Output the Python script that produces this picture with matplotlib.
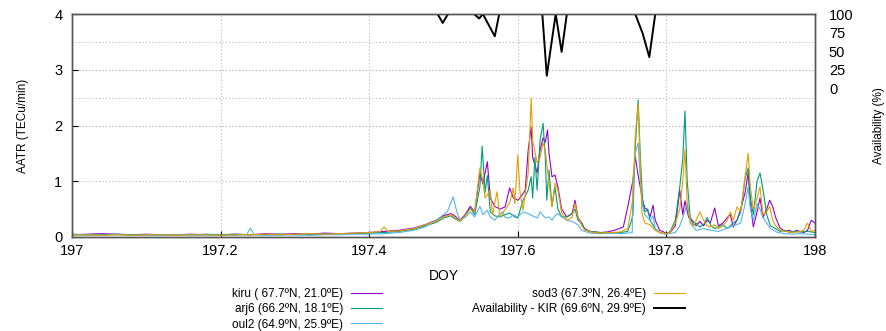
import matplotlib
matplotlib.use("Agg")
import matplotlib.pyplot as plt

plt.rcParams['font.family'] = ['Liberation Sans', 'DejaVu Sans']

# ---- data ----
kiru_doy = [197.00, 197.02, 197.04, 197.06, 197.08, 197.10, 197.12, 197.14, 197.16, 197.18,
            197.20, 197.22, 197.24, 197.26, 197.28, 197.30, 197.32, 197.34, 197.36, 197.38,
            197.40, 197.42, 197.44, 197.46, 197.475, 197.49, 197.50, 197.51, 197.515, 197.522,
            197.529, 197.536, 197.542, 197.549, 197.553, 197.559, 197.563, 197.569, 197.576, 197.583,
            197.589, 197.594, 197.600, 197.603, 197.610, 197.614, 197.618, 197.620, 197.626, 197.630,
            197.634, 197.637, 197.640, 197.642, 197.646, 197.650, 197.654, 197.659, 197.666, 197.673,
            197.677, 197.681, 197.686, 197.690, 197.697, 197.705, 197.711, 197.720, 197.730, 197.742,
            197.748, 197.755, 197.758, 197.762, 197.768, 197.771, 197.774, 197.778, 197.782, 197.785,
            197.791, 197.795, 197.800, 197.805, 197.812, 197.816, 197.818, 197.822, 197.825, 197.830,
            197.835, 197.840, 197.845, 197.850, 197.855, 197.859, 197.865, 197.870, 197.876, 197.882,
            197.886, 197.890, 197.895, 197.900, 197.906, 197.910, 197.913, 197.917, 197.922, 197.926,
            197.930, 197.935, 197.939, 197.943, 197.947, 197.953, 197.960, 197.966, 197.970, 197.975,
            197.980, 197.985, 197.990, 197.995, 198.000]
kiru_aatr = [0.04, 0.05, 0.06, 0.05, 0.04, 0.05, 0.04, 0.04, 0.05, 0.04,
             0.04, 0.05, 0.04, 0.06, 0.05, 0.06, 0.05, 0.07, 0.06, 0.07,
             0.08, 0.10, 0.12, 0.16, 0.22, 0.30, 0.38, 0.42, 0.38, 0.30,
             0.40, 0.55, 0.45, 1.15, 0.95, 1.35, 0.70, 0.55, 0.50, 0.54,
             0.88, 0.70, 0.66, 0.70, 0.84, 1.56, 1.97, 1.43, 1.15, 1.56,
             1.78, 1.70, 1.92, 1.50, 1.08, 1.11, 0.90, 0.50, 0.36, 0.42,
             0.66, 0.35, 0.25, 0.15, 0.10, 0.09, 0.08, 0.09, 0.12, 0.18,
             0.54, 1.02, 1.45, 1.10, 0.66, 0.52, 0.50, 0.36, 0.57, 0.30,
             0.12, 0.10, 0.06, 0.08, 0.20, 0.62, 0.84, 0.40, 0.65, 0.35,
             0.30, 0.20, 0.28, 0.20, 0.30, 0.25, 0.52, 0.20, 0.25, 0.35,
             0.40, 0.18, 0.30, 0.50, 0.80, 1.15, 0.60, 0.18, 0.45, 0.70,
             0.35, 0.50, 0.66, 0.55, 0.35, 0.16, 0.10, 0.12, 0.08, 0.12,
             0.10, 0.08, 0.12, 0.30, 0.25]

arj6_doy = [197.00, 197.02, 197.04, 197.06, 197.08, 197.10, 197.12, 197.14, 197.16, 197.18,
            197.20, 197.22, 197.24, 197.26, 197.28, 197.30, 197.32, 197.34, 197.36, 197.38,
            197.40, 197.42, 197.44, 197.46, 197.475, 197.49, 197.50, 197.51, 197.515, 197.522,
            197.529, 197.536, 197.542, 197.549, 197.552, 197.556, 197.559, 197.563, 197.569, 197.576,
            197.583, 197.589, 197.596, 197.600, 197.607, 197.614, 197.618, 197.620, 197.623, 197.626,
            197.630, 197.634, 197.637, 197.639, 197.642, 197.646, 197.650, 197.654, 197.659, 197.666,
            197.673, 197.677, 197.681, 197.686, 197.690, 197.697, 197.711, 197.724, 197.738, 197.748,
            197.752, 197.755, 197.758, 197.762, 197.765, 197.768, 197.771, 197.775, 197.778, 197.785,
            197.791, 197.800, 197.805, 197.812, 197.818, 197.822, 197.825, 197.828, 197.832, 197.836,
            197.840, 197.845, 197.850, 197.855, 197.860, 197.865, 197.870, 197.876, 197.882, 197.886,
            197.890, 197.895, 197.900, 197.906, 197.910, 197.913, 197.917, 197.922, 197.926, 197.930,
            197.935, 197.940, 197.947, 197.953, 197.960, 197.966, 197.972, 197.980, 197.990, 198.000]
arj6_aatr = [0.05, 0.04, 0.04, 0.05, 0.04, 0.04, 0.03, 0.04, 0.04, 0.05,
             0.04, 0.05, 0.04, 0.04, 0.05, 0.04, 0.05, 0.05, 0.06, 0.06,
             0.07, 0.08, 0.10, 0.14, 0.20, 0.26, 0.34, 0.38, 0.33, 0.28,
             0.38, 0.52, 0.40, 0.90, 1.63, 0.80, 1.10, 0.45, 0.38, 0.36,
             0.40, 0.43, 0.36, 0.34, 0.66, 0.84, 1.08, 0.70, 1.43, 0.84,
             1.74, 2.04, 1.43, 0.66, 1.20, 0.55, 0.90, 0.50, 0.36, 0.36,
             0.42, 0.50, 0.30, 0.25, 0.13, 0.10, 0.08, 0.07, 0.08, 0.10,
             0.25, 0.40, 1.60, 2.46, 1.40, 0.66, 0.45, 0.50, 0.30, 0.15,
             0.08, 0.05, 0.10, 0.30, 0.90, 1.40, 2.26, 1.00, 0.36, 0.22,
             0.25, 0.18, 0.22, 0.35, 0.20, 0.15, 0.18, 0.22, 0.15, 0.20,
             0.25, 0.30, 0.45, 1.05, 1.24, 0.70, 0.40, 1.00, 1.15, 0.85,
             0.40, 0.20, 0.15, 0.10, 0.12, 0.08, 0.10, 0.09, 0.10, 0.08]

oul2_doy = [197.00, 197.02, 197.04, 197.06, 197.08, 197.10, 197.12, 197.14, 197.16, 197.18,
            197.20, 197.22, 197.235, 197.24, 197.245, 197.26, 197.28, 197.30, 197.32, 197.34,
            197.36, 197.38, 197.40, 197.42, 197.44, 197.46, 197.475, 197.49, 197.50, 197.505,
            197.513, 197.518, 197.522, 197.529, 197.536, 197.542, 197.549, 197.553, 197.559, 197.563,
            197.569, 197.576, 197.580, 197.583, 197.589, 197.594, 197.600, 197.607, 197.614, 197.620,
            197.626, 197.630, 197.637, 197.642, 197.646, 197.650, 197.654, 197.659, 197.666, 197.673,
            197.677, 197.681, 197.686, 197.690, 197.697, 197.711, 197.724, 197.738, 197.748, 197.754,
            197.755, 197.758, 197.762, 197.765, 197.768, 197.771, 197.778, 197.782, 197.785, 197.791,
            197.800, 197.812, 197.818, 197.822, 197.828, 197.832, 197.840, 197.850, 197.860, 197.870,
            197.880, 197.890, 197.900, 197.906, 197.910, 197.913, 197.917, 197.922, 197.926, 197.930,
            197.940, 197.950, 197.960, 197.970, 197.980, 197.990, 198.000]
oul2_aatr = [0.04, 0.03, 0.03, 0.04, 0.03, 0.03, 0.03, 0.04, 0.03, 0.03,
             0.03, 0.03, 0.04, 0.16, 0.04, 0.03, 0.03, 0.04, 0.03, 0.04,
             0.04, 0.05, 0.05, 0.06, 0.08, 0.12, 0.18, 0.30, 0.40, 0.45,
             0.72, 0.45, 0.30, 0.35, 0.45, 0.36, 0.55, 0.40, 0.48, 0.36,
             0.30, 0.42, 0.45, 0.35, 0.34, 0.40, 0.36, 0.45, 0.42, 0.38,
             0.34, 0.45, 0.34, 0.36, 0.30, 0.38, 0.42, 0.36, 0.30, 0.28,
             0.25, 0.22, 0.12, 0.10, 0.07, 0.06, 0.07, 0.06, 0.07, 0.08,
             1.00, 1.50, 1.69, 1.00, 0.55, 0.40, 0.30, 0.38, 0.15, 0.08,
             0.05, 0.08, 0.20, 0.35, 0.60, 0.25, 0.12, 0.15, 0.12, 0.10,
             0.15, 0.20, 0.25, 0.60, 0.90, 0.50, 0.30, 0.60, 0.50, 0.35,
             0.15, 0.08, 0.06, 0.05, 0.06, 0.05, 0.04]

sod3_doy = [197.00, 197.02, 197.04, 197.06, 197.08, 197.10, 197.12, 197.14, 197.16, 197.18,
            197.20, 197.22, 197.24, 197.26, 197.28, 197.30, 197.32, 197.34, 197.36, 197.38,
            197.40, 197.415, 197.42, 197.425, 197.44, 197.46, 197.475, 197.49, 197.50, 197.51,
            197.515, 197.522, 197.529, 197.536, 197.542, 197.549, 197.553, 197.556, 197.563, 197.566,
            197.572, 197.576, 197.580, 197.589, 197.594, 197.596, 197.600, 197.603, 197.607, 197.614,
            197.618, 197.620, 197.626, 197.630, 197.634, 197.637, 197.640, 197.646, 197.650, 197.654,
            197.659, 197.666, 197.673, 197.677, 197.681, 197.686, 197.690, 197.697, 197.711, 197.724,
            197.738, 197.748, 197.755, 197.758, 197.762, 197.765, 197.767, 197.771, 197.778, 197.785,
            197.791, 197.800, 197.805, 197.812, 197.818, 197.822, 197.825, 197.828, 197.832, 197.836,
            197.840, 197.845, 197.850, 197.855, 197.860, 197.865, 197.870, 197.876, 197.882, 197.886,
            197.890, 197.895, 197.900, 197.906, 197.910, 197.913, 197.917, 197.922, 197.926, 197.930,
            197.935, 197.939, 197.943, 197.947, 197.953, 197.960, 197.970, 197.980, 197.985, 197.990,
            197.995, 198.000]
sod3_aatr = [0.03, 0.04, 0.03, 0.04, 0.03, 0.04, 0.04, 0.03, 0.04, 0.04,
             0.03, 0.04, 0.04, 0.05, 0.04, 0.05, 0.06, 0.05, 0.06, 0.07,
             0.08, 0.10, 0.18, 0.10, 0.11, 0.15, 0.22, 0.28, 0.36, 0.40,
             0.35, 0.28, 0.38, 0.50, 0.45, 1.24, 1.00, 0.70, 0.84, 0.40,
             0.81, 0.36, 0.43, 0.61, 0.88, 0.60, 1.47, 0.80, 0.48, 1.15,
             2.49, 1.74, 1.33, 1.43, 1.69, 1.56, 1.20, 0.54, 0.97, 0.84,
             0.43, 0.30, 0.35, 0.60, 0.36, 0.20, 0.13, 0.09, 0.07, 0.08,
             0.09, 0.15, 0.70, 1.80, 2.39, 1.20, 0.43, 0.25, 0.22, 0.12,
             0.08, 0.06, 0.08, 0.25, 0.50, 1.00, 1.56, 0.60, 0.30, 0.20,
             0.30, 0.45, 0.30, 0.20, 0.18, 0.22, 0.15, 0.20, 0.30, 0.45,
             0.30, 0.54, 0.45, 1.10, 1.50, 0.90, 0.50, 0.70, 0.90, 0.40,
             0.45, 0.55, 0.30, 0.20, 0.12, 0.10, 0.08, 0.10, 0.12, 0.25,
             0.10, 0.12]

avail_doy = [197.000, 197.492, 197.499, 197.506, 197.541, 197.548, 197.553, 197.569, 197.575,
             197.633, 197.639, 197.651, 197.659, 197.666, 197.758, 197.768, 197.777, 197.785, 198.000]
avail_pct = [100, 100, 88, 100, 100, 94, 100, 70, 100,
             100, 17, 100, 49, 100, 100, 74, 42, 100, 100]

xticks = [197, 197.2, 197.4, 197.6, 197.8, 198]
xticklabels = ['197', '197.2', '197.4', '197.6', '197.8', '198']
y2ticks = [0, 25, 50, 75, 100]

# ---- figure ----
fig = plt.figure(figsize=(8.86, 3.31), dpi=100)
ax = fig.add_axes([72/886, 1-237/331, (815-72)/886, (237-14)/331])
ax2 = ax.twinx()

grid_kw = dict(color='#bbbbbb', lw=0.8, ls=(0, (1, 2)), zorder=0)
for x in xticks[1:-1]:
    ax.axvline(x, **grid_kw)
for y in [1, 2, 3]:
    ax.axhline(y, **grid_kw)
for v in y2ticks[:-1]:
    ax.axhline(2 + v / 50.0, **grid_kw)   # right-axis grid expressed in left units

l1, = ax.plot(kiru_doy, kiru_aatr, color='#9400d3', lw=0.8, label='kiru ( 67.7ºN, 21.0ºE)')
l2, = ax.plot(arj6_doy, arj6_aatr, color='#009e73', lw=0.8, label='arj6 (66.2ºN, 18.1ºE)')
l3, = ax.plot(oul2_doy, oul2_aatr, color='#56b4e9', lw=0.8, label='oul2 (64.9ºN, 25.9ºE)')
l4, = ax.plot(sod3_doy, sod3_aatr, color='#e69f00', lw=0.8, label='sod3 (67.3ºN, 26.4ºE)')
l5, = ax2.plot(avail_doy, avail_pct, color='black', lw=1.4, label='Availability - KIR (69.6ºN, 29.9ºE)')

ax.set_xlim(197, 198)
ax.set_ylim(0, 4)
ax2.set_ylim(-200, 100)
ax.set_xticks(xticks)
ax.set_xticklabels(xticklabels)
ax.set_yticks([0, 1, 2, 3, 4])
ax2.set_yticks(y2ticks)

ax.tick_params(axis='x', direction='in', length=4, pad=5, labelsize=10.5)
ax.tick_params(axis='y', direction='in', length=4, pad=7, labelsize=10.5)
ax2.tick_params(axis='y', direction='in', length=0, pad=10, labelsize=10.5)

for a in (ax, ax2):
    for s in a.spines.values():
        s.set_color('#555555')
        s.set_linewidth(1.0)

ax.set_xlabel('DOY', fontsize=10, labelpad=8)
ax.set_ylabel('AATR (TECu/min)', fontsize=8.5, labelpad=18)
ax2.set_ylabel('Availability (%)', fontsize=8.5, labelpad=14)

leg_kw = dict(loc='upper right', frameon=False, markerfirst=False, fontsize=8.5,
              handlelength=2.6, handletextpad=0.7, labelspacing=0.28,
              borderaxespad=0, borderpad=0)
fig.legend(handles=[l1, l2, l3], bbox_to_anchor=(382/886, 1-288/331), **leg_kw)
fig.legend(handles=[l4, l5], bbox_to_anchor=(685/886, 1-288/331), **leg_kw)

fig.savefig('out.png', dpi=100)
